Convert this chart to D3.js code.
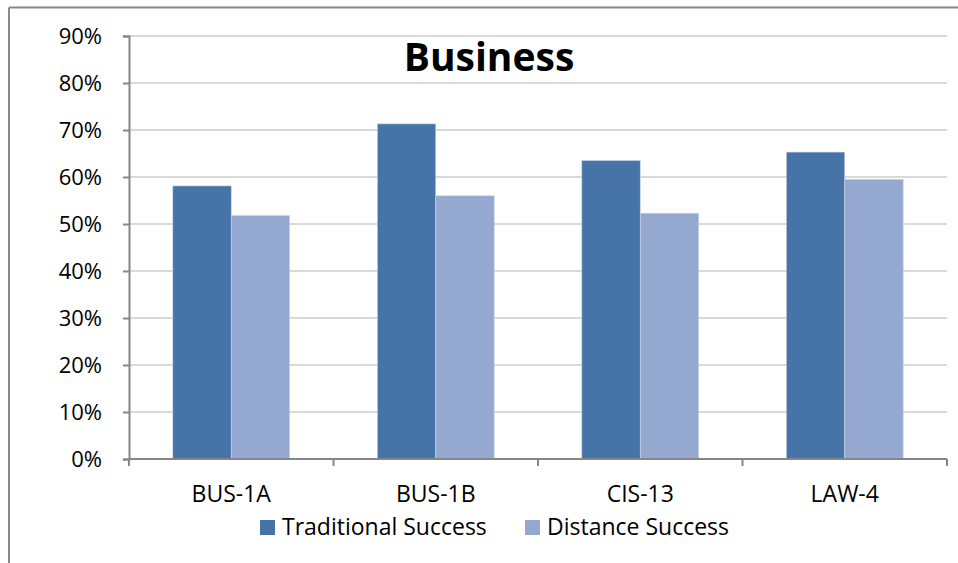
<!DOCTYPE html>
<meta charset="utf-8">
<html>
<style>
body { margin: 0; background: #fff; }
text { font-family: "Open Sans", Lato, sans-serif; fill: #000; }
.grid line { stroke: #d9d9d9; stroke-width: 2px; }
.axis path, .axis line { stroke: #868686; stroke-width: 2px; }
</style>
<body>
<script src="https://cdn.jsdelivr.net/npm/d3@7"></script>
<script type="text/javascript">

// chart data
var categories = ["BUS-1A", "BUS-1B", "CIS-13", "LAW-4"];
var seriesNames = ["Traditional Success", "Distance Success"];
var traditional = [0.581, 0.713, 0.635, 0.653];
var distance = [0.518, 0.560, 0.523, 0.595];
var yTicks = [0, 0.1, 0.2, 0.3, 0.4, 0.5, 0.6, 0.7, 0.8, 0.9];
var colors = ["#4674a8", "#95a9d0"];

var width = 958, height = 563;
var mLeft = 129, mRight = 947, mTop = 36, mBottom = 459;

var svg = d3.select("body").append("svg")
    .attr("width", width)
    .attr("height", height);

// outer frame (only top + left visible)
svg.append("line").attr("x1", 9).attr("x2", width).attr("y1", 7.5).attr("y2", 7.5)
    .attr("stroke", "#888").attr("stroke-width", 2);
svg.append("line").attr("x1", 9).attr("x2", 9).attr("y1", 7.5).attr("y2", height)
    .attr("stroke", "#888").attr("stroke-width", 2);

var x0 = d3.scaleBand().domain(categories).range([mLeft, mRight]);
// 150% gap width -> 2 bars + 1.5 bar gap
var bw = x0.bandwidth();
var x1 = d3.scaleBand().domain(seriesNames).range([bw * 0.75 / 3.5, bw * 2.75 / 3.5]);
var y = d3.scaleLinear().domain([0, 0.9]).range([mBottom, mTop]);

// gridlines
svg.append("g").attr("class", "grid")
  .selectAll("line").data(yTicks.slice(1)).enter().append("line")
    .attr("x1", mLeft).attr("x2", mRight)
    .attr("y1", d => y(d)).attr("y2", d => y(d));

// bars
var rows = categories.map(function(c, i) {
  return { cat: c, vals: [traditional[i], distance[i]] };
});
var groups = svg.append("g").selectAll("g").data(rows).enter().append("g")
    .attr("transform", d => "translate(" + x0(d.cat) + ",0)");
groups.selectAll("rect").data(d => d.vals.map((v, j) => ({ name: seriesNames[j], v: v, j: j })))
  .enter().append("rect")
    .attr("x", d => x1(d.name))
    .attr("width", x1.bandwidth())
    .attr("y", d => y(d.v))
    .attr("height", d => mBottom - y(d.v))
    .attr("fill", d => colors[d.j])
    .attr("stroke", "#c9d3e6")
    .attr("stroke-width", 0.6);

// y axis
var yAxis = svg.append("g").attr("class", "axis")
    .attr("transform", "translate(" + mLeft + ",0)")
    .call(d3.axisLeft(y).tickValues(yTicks).tickFormat(d3.format(".0%")).tickSize(6).tickPadding(21));
yAxis.selectAll("text").style("font-size", "22px").attr("dy", "0.35em");

// x axis
var xAxis = svg.append("g").attr("class", "axis")
    .attr("transform", "translate(0," + mBottom + ")")
    .call(d3.axisBottom(x0).tickSize(0).tickPadding(35));
xAxis.select(".domain").attr("d", "M" + mLeft + ",0H" + mRight);
xAxis.selectAll("text").style("font-size", "23px").attr("dy", "0.35em");
// category separator ticks
xAxis.selectAll(".sep").data(categories.concat([null])).enter().append("line")
    .attr("class", "sep")
    .attr("x1", (d, i) => mLeft + i * x0.step()).attr("x2", (d, i) => mLeft + i * x0.step())
    .attr("y1", 0).attr("y2", 7);

// title
svg.append("text")
    .attr("x", 489).attr("y", 71)
    .attr("text-anchor", "middle")
    .style("font-size", "39px").style("font-weight", "bold")
    .text("Business");

// legend
var legX = [260, 525];
var leg = svg.append("g").selectAll("g").data(seriesNames).enter().append("g")
    .attr("transform", (d, i) => "translate(" + legX[i] + ",520)");
leg.append("rect").attr("width", 15).attr("height", 15).attr("fill", (d, i) => colors[i]);
leg.append("text").attr("x", 22).attr("y", 14.5)
    .style("font-size", "23px").text(d => d);

</script>
</body>
</html>
